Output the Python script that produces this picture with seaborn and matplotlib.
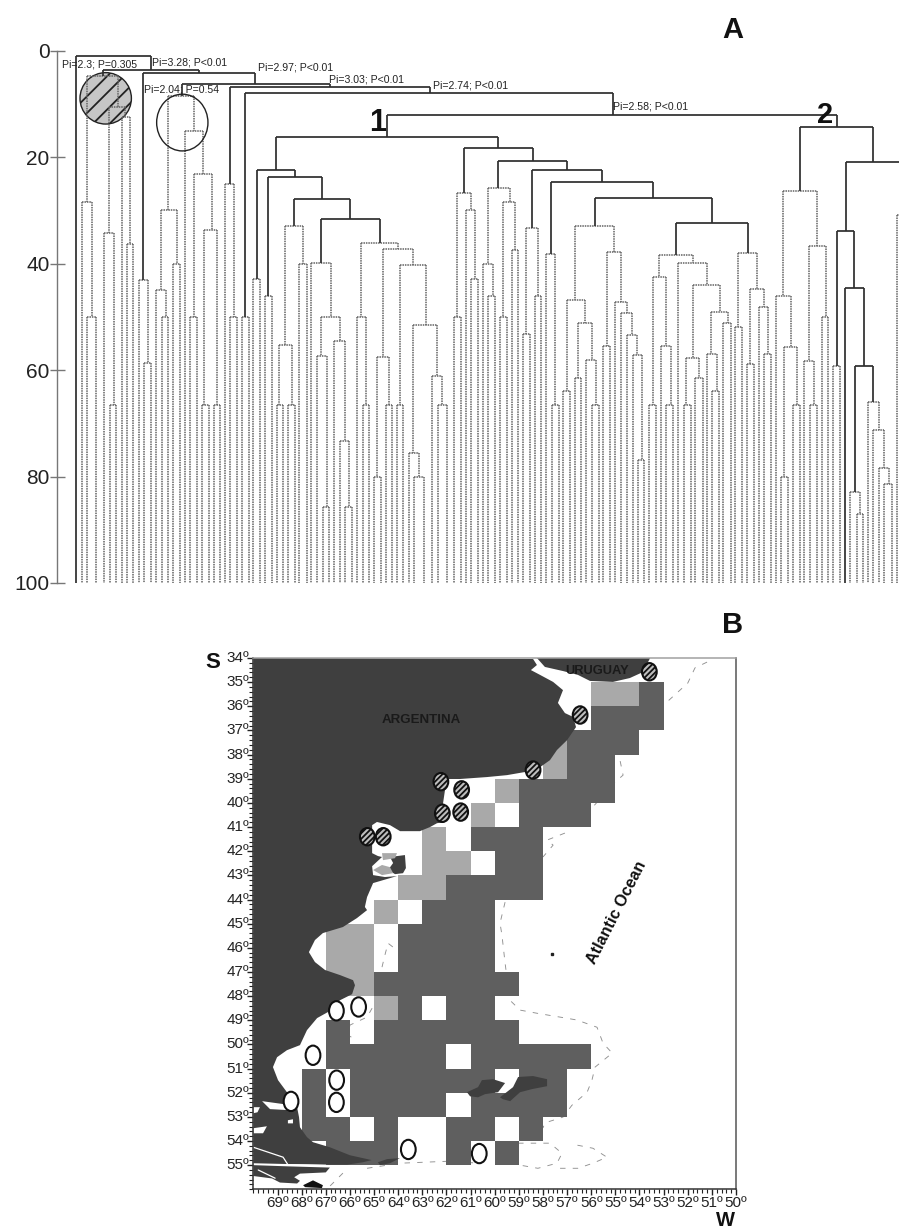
import numpy as np
import pandas as pd
import matplotlib
matplotlib.use("Agg")
import matplotlib.pyplot as plt
from matplotlib.colors import ListedColormap
from matplotlib.patches import Ellipse, Polygon
import seaborn as sns

# ---- panel A : dendrogram brackets (leaf position, leaf position, % height)
solid_left = [76, 103, 143.3, 181.7, 230, 245.3, 387.3, 276, 256.7, 268.3, 294.3, 320.7,
              464, 498.3, 532.3, 551, 595, 675.7, 800.3, 845.7, 836.7, 845, 855.3]
solid_right = [150.7, 199.3, 255, 330, 430, 612.7, 836.7, 498.3, 295.3, 322.3, 350.3, 380,
               532.7, 567.3, 602.3, 653.3, 711.7, 747.7, 873.3, 906, 854.3, 864.3, 873.3]
solid_height = [1, 3.6, 4.1, 6.3, 6.8, 8, 12, 16.2, 22.4, 23.8, 27.9, 31.7,
                18.3, 20.7, 22.5, 24.6, 27.6, 32.3, 14.4, 20.9, 33.8, 44.5, 59.2]

dotted_left = [86.7, 81.7, 87, 109, 104, 110, 121.7, 127.3, 138.7, 144.3,
               168.3, 160.7, 156, 161.7, 173, 185, 193.7, 190.3, 204.3, 201.7,
               213.7, 225, 230, 241.7, 253.3, 265, 285.3, 279.3, 276.7, 288,
               299.3, 310.7, 320.7, 316.7, 322.7, 334, 340, 345.3, 361, 356.7,
               362.7, 382.7, 376.7, 374, 385.7, 400, 396.7, 413.3, 408.7, 414.3,
               431.7, 437.7, 457.3, 454.3, 466, 471.3, 487.7, 483.3, 488.3, 503.3,
               500, 511.7, 526, 523.3, 534.7, 546, 551.7, 575.3, 566.7, 563.3,
               578, 574.7, 586.3, 592, 606.7, 603.3, 615.3, 621, 626.7, 632.7,
               637.7, 658.7, 652.7, 649.3, 661, 666.3, 677.7, 692.7, 686.3, 683.7,
               695.3, 711, 706.7, 712.3, 723.3, 738.3, 735.3, 750, 747, 758.7,
               764, 783.3, 775.7, 784.3, 781.3, 793, 808.7, 804.3, 810.3, 821.7,
               833.3, 850.3, 856.7, 867.7, 873.3, 879, 884.3, 896.7]
dotted_right = [118.3, 92.3, 96.3, 125, 114, 116.3, 130, 133.3, 148.3, 151,
                194.3, 177.3, 165.7, 168.3, 180, 202.7, 211.7, 196.7, 216.7, 209,
                220.3, 234.3, 237.3, 249, 260, 271.7, 303.3, 291.7, 282.7, 295,
                306.7, 331, 340, 326.7, 329.3, 345, 349.3, 352.3, 398.3, 366,
                369.3, 413.3, 389.3, 380.7, 392.3, 426, 403.3, 437.3, 419.3, 423.7,
                442.3, 446.7, 471.3, 461, 475.3, 478.3, 510, 492.7, 495.3, 515.3,
                506.7, 518.3, 538.3, 530, 541.3, 555.3, 558.7, 614.3, 585, 570.3,
                591.7, 581.3, 596, 599, 621, 610, 626.7, 632.3, 637.3, 642,
                644.3, 692.7, 666.3, 656.3, 671, 673.3, 706.7, 720, 699.3, 690.7,
                702.7, 728.3, 716.7, 719.3, 730.7, 757, 742, 764, 753.7, 768,
                771.3, 817.3, 791, 796.7, 788, 800, 825.7, 814, 817, 828.3,
                840, 860, 862.7, 879, 884.3, 888.7, 891.7, 915]
dotted_height = [4.8, 28.5, 50, 10.6, 34.3, 66.6, 12.5, 36.4, 43, 58.7,
                 8.5, 30, 45, 50, 40, 15, 23.2, 50, 33.7, 66.6,
                 66.6, 25, 50, 50, 42.8, 46, 33, 55.3, 66.6, 66.6,
                 40, 39.8, 50, 57.4, 85.7, 54.5, 73.3, 85.7, 36.2, 50,
                 66.6, 37.3, 57.6, 80, 66.6, 40.2, 66.6, 51.6, 75.6, 80,
                 61.1, 66.6, 26.7, 50, 29.9, 42.8, 25.7, 40, 46.1, 28.4,
                 50, 37.5, 33.4, 53.3, 46.1, 38.2, 66.6, 33, 46.9, 63.9,
                 51.2, 61.4, 58.1, 66.6, 37.8, 55.5, 47.3, 49.2, 53.4, 57.2,
                 76.9, 38.3, 42.5, 66.6, 55.5, 66.6, 39.8, 44, 57.7, 66.6,
                 61.4, 49, 57, 64, 51.2, 38, 51.9, 44.7, 58.8, 48.1,
                 57, 26.4, 46.1, 55.6, 80, 66.6, 36.6, 58.3, 66.6, 50,
                 59.2, 82.9, 87.1, 66, 71.2, 78.4, 81.4, 30.9]

height_ticks = [0, 20, 40, 60, 80, 100]

pi_labels = ["Pi=2.3; P=0.305", "Pi=3.28; P<0.01", "Pi=2.97; P<0.01", "Pi=2.04; P=0.54",
             "Pi=3.03; P<0.01", "Pi=2.74; P<0.01", "Pi=2.58; P<0.01"]
pi_label_x = [61.7, 152.3, 257.7, 144, 329.3, 433, 613.3]
pi_label_h = [2.5, 2.25, 3.2, 7.2, 5.5, 6.6, 10.4]

# ---- panel B : grid cells, keyed by latitude band, listed by western longitude
lat_ticks = list(range(34, 56))
lon_ticks = list(range(69, 49, -1))

dark_cells = {35: [54], 36: [56, 55, 54], 37: [57, 56, 55], 38: [57, 56],
              39: [59, 58, 57, 56], 40: [59, 58, 57], 41: [61, 60, 59], 42: [60, 59],
              43: [62, 61, 60, 59], 44: [63, 62, 61], 45: [64, 63, 62, 61],
              46: [64, 63, 62, 61], 47: [65, 64, 63, 62, 61, 60], 48: [64, 62, 61],
              49: [67, 65, 64, 63, 62, 61, 60],
              50: [67, 66, 65, 64, 63, 61, 60, 59, 58, 57],
              51: [68, 66, 65, 64, 63, 62, 61, 59, 58],
              52: [68, 66, 65, 64, 63, 61, 60, 59, 58],
              53: [68, 67, 65, 62, 61, 59], 54: [67, 66, 65, 62, 60]}
light_cells = {35: [56, 55], 37: [58], 38: [58], 39: [60], 40: [61], 41: [63], 42: [63, 62],
               43: [64, 63], 44: [65], 45: [67, 66], 46: [67, 66], 47: [67, 66], 48: [65]}

hatched_lon = [53.59, 56.46, 58.41, 62.23, 61.37, 62.17, 61.41, 65.28, 64.62]
hatched_lat = [34.57, 36.36, 38.64, 39.12, 39.46, 40.43, 40.38, 41.40, 41.40]
open_lon = [66.56, 65.64, 67.53, 66.55, 66.56, 68.44, 63.58, 60.64]
open_lat = [48.61, 48.45, 50.45, 51.48, 52.40, 52.36, 54.35, 54.52]

# coast outlines as (west, south) degrees
argentina = [(70, 34), (58.41, 34.04), (58.25, 34.29), (58.5, 34.5), (58.12, 34.7), (57.58, 34.99),
             (57.17, 35.33), (57.38, 35.86), (57.09, 36.28), (56.75, 36.44), (56.63, 36.86),
             (57, 37.4), (57.42, 37.81), (57.71, 38.23), (58.12, 38.52), (58.74, 38.72),
             (59.49, 38.85), (60.32, 38.93), (61.44, 39.01), (61.94, 39.01), (62.06, 39.47),
             (62.14, 40.01), (62.02, 40.79), (62.39, 40.84), (62.68, 41), (63.1, 41.17),
             (63.92, 41.17), (64.34, 40.92), (64.88, 40.79), (65.08, 40.92), (65.08, 42.08),
             (64.84, 42.2), (64.67, 42.24), (65.08, 42.62), (65.04, 42.99), (64.55, 43.07),
             (64.05, 43.03), (65.04, 43.32), (65.29, 43.9), (65.38, 44.31), (65.29, 44.44),
             (65.71, 44.77), (66.29, 45.14), (67.12, 45.39), (67.45, 45.68), (67.7, 46.18),
             (67.45, 46.59), (67.03, 46.92), (66.41, 47.13), (65.87, 47.34), (65.79, 47.55),
             (65.91, 47.92), (66.41, 48.17), (66.91, 48.66), (67.36, 48.91), (67.78, 49.41),
             (68.07, 50.03), (68.61, 50.24), (69.02, 50.53), (69.19, 50.94), (68.98, 51.48),
             (68.61, 51.98), (68.19, 52.6), (68.11, 53.01), (68.07, 53.43), (67.78, 53.84),
             (67.53, 54.05), (66.83, 54.26), (66, 54.59), (65.1, 54.79), (65.46, 54.88),
             (66.12, 54.98), (66.83, 54.98), (68.77, 54.95), (70, 54.92)]
uruguay = [(58.25, 34), (57.92, 34.37), (57.17, 34.54), (56.55, 34.7), (56.05, 34.95), (55.1, 34.99),
           (54.4, 34.83), (53.85, 34.58), (53.56, 34)]
valdes = [(64.34, 42.24), (63.72, 42.16), (63.68, 42.7), (63.8, 42.91), (64.13, 42.95), (64.42, 42.78),
          (64.21, 42.49)]
tierra_south = [(70, 55), (68.57, 55.05), (66.83, 55.1), (67, 55.3), (68.07, 55.35), (68.31, 55.5),
                (68.07, 55.65), (68.19, 55.76), (68.9, 55.72), (69.23, 55.55), (70, 55.45)]
estados = [(64.84, 54.88), (64.46, 54.75), (63.93, 54.71), (64.34, 54.92), (64.75, 55)]
west_falkland = [(61.15, 51.98), (60.69, 51.77), (60.53, 51.48), (60.07, 51.44), (59.57, 51.6),
                 (59.86, 51.98), (60.4, 52.06), (60.69, 52.19), (61.02, 52.15)]
east_falkland = [(59.78, 52.19), (59.24, 51.77), (59.03, 51.35), (58.41, 51.31), (57.83, 51.44),
                 (57.83, 51.73), (58.45, 51.85), (58.95, 51.98), (59.36, 52.35), (59.66, 52.27)]
black_island = [(67.94, 55.83), (67.53, 55.63), (67.12, 55.83), (67.16, 55.95), (67.86, 55.91)]
gulf_patches = [[(64.67, 42.08), (64.05, 42.08), (64.13, 42.29), (64.63, 42.37)],
                [(65.04, 42.78), (64.67, 42.57), (64.34, 42.66), (64.21, 42.91), (64.67, 42.99)]]
white_inlets = [[(69.64, 52.35), (68.77, 52.47), (68.57, 52.72), (69.31, 52.68)],
                [(70, 52.6), (69.73, 52.6), (69.83, 52.81), (70, 52.85)],
                [(70, 53.47), (69.44, 53.39), (69.6, 53.68), (70, 53.68)],
                [(68.57, 53.14), (68.36, 53.1), (68.36, 53.27), (68.57, 53.27)]]
strait = [(70, 54.26), (68.77, 54.67), (68.57, 54.98), (66.9, 55.02)]
channel = [(69.8, 55.2), (69.1, 55.54)]
shelf_break = [[(51.2, 34.17), (51.7, 34.41), (52, 35.04), (52.86, 35.82)],
               [(54.8, 38.27), (54.68, 38.85), (55.01, 39.14), (55.97, 40.21)],
               [(57.09, 41.25), (57.83, 41.54), (57.58, 41.75), (58, 42.24)],
               [(59.57, 44.11), (59.78, 44.98), (59.7, 45.47), (59.57, 46.63), (59.37, 48.17), (58.95, 48.58),
                (58.25, 48.71), (57.29, 48.87), (56.59, 48.99), (55.76, 49.29), (55.51, 49.95), (55.13, 50.36),
                (55.84, 50.94), (55.97, 51.48), (56.17, 51.98), (56.8, 52.52), (57.17, 53.01), (57.92, 53.25),
                (58, 53.46)],
               [(59.03, 54.09), (57.71, 54.09), (57.21, 54.51), (57.42, 54.92), (58.21, 55.13), (58.95, 55)],
               [(57.29, 55.13), (56.55, 55.13), (55.93, 54.92), (55.35, 54.67), (55.93, 54.3), (56.59, 54.17)],
               [(65.29, 55.13), (63.93, 54.92), (61.97, 54.84), (60.61, 54.92)],
               [(66.29, 55.33), (66.91, 55.95)],
               [(64.67, 46.8), (64.55, 46.3), (64.42, 45.81), (64.05, 46.1)],
               [(65.08, 48.5), (65.29, 48.87), (66, 49.2), (66.08, 49.62), (65.87, 49.74)]]

sns.set_style("white")
plt.rcParams['font.family'] = ['Liberation Sans', 'DejaVu Sans']
plt.rcParams['hatch.linewidth'] = 1.3
plt.rcParams['hatch.color'] = '#1a1a1a'

W, H = 899, 1228
fig = plt.figure(figsize=(W / 100, H / 100), dpi=100, facecolor='white')


def px_axes(left, top, right, bottom):
    return fig.add_axes([left / W, 1 - bottom / H, (right - left) / W, (bottom - top) / H])


# ---------------- panel A
ax = px_axes(57, 50.7, 899, 583)
ax.patch.set_alpha(0)

solid = pd.DataFrame({'left': solid_left, 'right': solid_right, 'h': solid_height})
dotted = pd.DataFrame({'left': dotted_left, 'right': dotted_right, 'h': dotted_height})
links = pd.concat([solid.assign(kind='solid'), dotted.assign(kind='dotted')], ignore_index=True)


def stem_end(x, h):
    # a stem runs down to the next bracket spanning it, otherwise to the 100 line
    below = links[(links.h > h) & (links.left <= x) & (links.right >= x)]
    return below.h.min() if len(below) else 100


line_styles = {'solid': dict(color='#2e2e2e', lw=1.25, ls='-', zorder=3),
               'dotted': dict(color='#636363', lw=1.1, ls=(0, (1, 0.6)), zorder=2)}
for _, row in links.iterrows():
    style = line_styles[row.kind]
    ax.hlines(row.h, row.left, row.right, **style)
    ax.vlines(row.left, row.h, stem_end(row.left, row.h), **style)
    ax.vlines(row.right, row.h, stem_end(row.right, row.h), **style)

ax.add_patch(Ellipse((105.7, 8.95), 51.4, 9.66, facecolor='#c6c6c6', edgecolor='#222222',
                     lw=1.0, hatch='//', zorder=1))
ax.add_patch(Ellipse((182.3, 13.5), 51.3, 10.66, facecolor='none', edgecolor='#222222',
                     lw=1.0, zorder=4))

ax.set_xlim(57, 899)
ax.set_ylim(100, 0)
ax.set_xticks([])
ax.set_yticks(height_ticks)
ax.tick_params(axis='y', direction='inout', length=10.8, width=1.0, color='#777777',
               labelsize=15, labelcolor='#222222', left=True, pad=0)
sns.despine(ax=ax, top=True, right=True, bottom=True)
ax.spines['left'].set_color('#777777')
ax.spines['left'].set_linewidth(1.0)

for label, x, h in zip(pi_labels, pi_label_x, pi_label_h):
    ax.text(x, h, label, fontsize=7.6, color='#222222', ha='left', va='center', zorder=6)
ax.text(378, 13.5, "1", fontsize=22, fontweight='bold', color='#111111', ha='center', va='center', zorder=6)
ax.text(825, 12, "2", fontsize=21, fontweight='bold', color='#111111', ha='center', va='center', zorder=6)

# ---------------- panel B
mp = px_axes(253.4, 658, 736, 1189.3)

west_edges = list(range(70, 50, -1))
south_rows = list(range(34, 56))
grid = pd.DataFrame(0, index=south_rows, columns=west_edges)
for lat, lons in light_cells.items():
    grid.loc[lat, lons] = 1
for lat, lons in dark_cells.items():
    grid.loc[lat, lons] = 2

sns.heatmap(grid, ax=mp, mask=grid == 0, cmap=ListedColormap(['#a9a9a9', '#5f5f5f']), vmin=1, vmax=2,
            cbar=False, linewidths=0, rasterized=True)


def to_xy(points):
    return [(70 - lon, lat - 34) for lon, lat in points]


for line in shelf_break:
    xy = np.array(to_xy(line))
    mp.plot(xy[:, 0], xy[:, 1], color='#909090', lw=0.65, ls=(0, (6, 8)), zorder=0.5)

for outline in [argentina, uruguay, valdes, tierra_south, estados, west_falkland, east_falkland]:
    mp.add_patch(Polygon(to_xy(outline), closed=True, facecolor='#3f3f3f', edgecolor='none', zorder=2))
mp.add_patch(Polygon(to_xy(black_island), closed=True, facecolor='#111111', edgecolor='none', zorder=2))
for patch in gulf_patches:
    mp.add_patch(Polygon(to_xy(patch), closed=True, facecolor='#a9a9a9', edgecolor='none', zorder=2.2))
for inlet in white_inlets:
    mp.add_patch(Polygon(to_xy(inlet), closed=True, facecolor='white', edgecolor='none', zorder=2.2))
for thin in [strait, channel]:
    xy = np.array(to_xy(thin))
    mp.plot(xy[:, 0], xy[:, 1], color='white', lw=0.9, zorder=2.2)
mp.plot(70 - 57.61, 46.27 - 34, marker='s', ms=1.8, color='#222222', zorder=2.2)

for lon, lat in zip(hatched_lon, hatched_lat):
    mp.add_patch(Ellipse((70 - lon, lat - 34), 0.61, 0.72, facecolor='#bdbdbd', edgecolor='#111111',
                         lw=1.5, hatch='//////', zorder=3))
for lon, lat in zip(open_lon, open_lat):
    mp.add_patch(Ellipse((70 - lon, lat - 34), 0.61, 0.8, facecolor='white', edgecolor='#111111',
                         lw=1.5, zorder=3))

mp.set_xlim(0, 20)
mp.set_ylim(22, 0)
mp.set_xticks([70 - v for v in lon_ticks])
mp.set_xticklabels([f"{v}º" for v in lon_ticks], rotation=0)
mp.set_yticks([v - 34 for v in lat_ticks])
mp.set_yticklabels([f"{v}º" for v in lat_ticks], rotation=0)
mp.set_xticks(np.arange(0, 20.01, 0.2), minor=True)
mp.set_yticks(np.arange(0, 22.01, 0.2), minor=True)
mp.set_xlabel("")
mp.set_ylabel("")
mp.tick_params(which='major', length=4.5, width=1.0, color='#222222', labelsize=11,
               labelcolor='#222222', left=True, bottom=True)
mp.tick_params(axis='x', which='major', pad=0)
mp.tick_params(axis='y', which='major', pad=-1.5)
mp.tick_params(which='minor', length=2.6, width=0.8, color='#222222', left=True, bottom=True)
for name, spine in mp.spines.items():
    spine.set_visible(True)
    spine.set_color('#333333')
    spine.set_linewidth(1.1)
mp.spines['top'].set_color('#a0a0a0')
mp.spines['right'].set_color('#555555')

mp.text(421.7 / 24.13 - 10.5, 2.55, "ARGENTINA", fontsize=9.6, fontweight='bold', color='#1a1a1a',
        ha='center', va='center', zorder=6)
mp.text(14.26, 0.53, "URUGUAY", fontsize=9.3, fontweight='bold', color='#1a1a1a', ha='center', va='center', zorder=6)
mp.text(15.07, 10.55, "Atlantic Ocean", fontsize=11.6, fontweight='bold', color='#111111', rotation=63,
        ha='center', va='center', zorder=6)

fig.text(733 / W, 1 - 30 / H, "A", fontsize=21, fontweight='bold', color='#111111', ha='center', va='center')
fig.text(733 / W, 1 - 625 / H, "B", fontsize=21, fontweight='bold', color='#111111', ha='center', va='center')
fig.text(212.7 / W, 1 - 662.7 / H, "S", fontsize=16, fontweight='bold', color='#111111', ha='center', va='center')
fig.text(725.5 / W, 1 - 1220 / H, "W", fontsize=14.5, fontweight='bold', color='#111111', ha='center', va='center')

fig.savefig("out.png", dpi=100, facecolor='white')
